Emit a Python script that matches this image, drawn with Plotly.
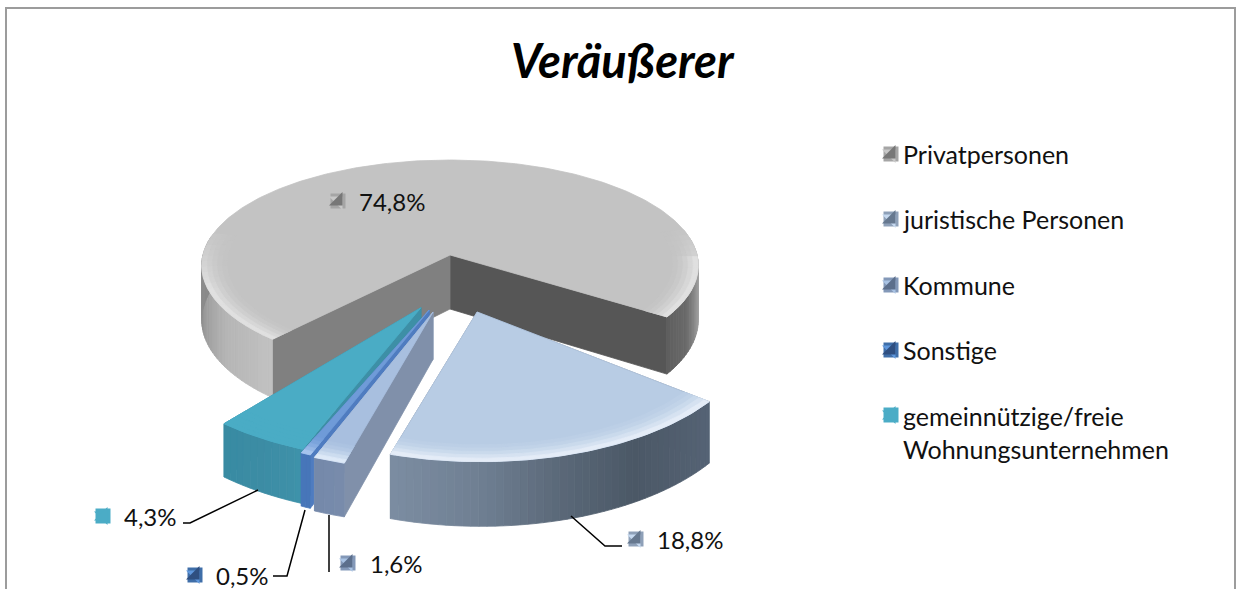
import math
import plotly.graph_objects as go

categories = ["Privatpersonen", "juristische Personen", "Kommune", "Sonstige",
              "gemeinnützige/freie<br>Wohnungsunternehmen"]
values = [74.8, 18.8, 1.6, 0.5, 4.3]
value_labels = ["74,8%", "18,8%", "1,6%", "0,5%", "4,3%"]
title_text = "Veräußerer"

W, H = 1236, 589
FONT = "Lato"
CX, CY, R, HH, C, DEPTH = 450, 255, 247, 104.5, 0.10, 54
START = 38.0  # angle where the second slice begins

# plane offsets, radius factors, depth factor, perspective angle nudges, colours for each slice
explode = [(0, 0), (0.104, 0.517), (-0.065, 0.517), (-0.08, 0.50), (-0.112, 0.48)]
scale = [1.0, 1.05, 1.08, 1.08, 1.08]
vstretch = [1.0, 1.08, 1.10, 1.10, 1.08]
depth_k = [1.0, 1.0, 0.83, 0.83, 0.85]
nudge = [(3, -4), (1, 1.3), (0, 0), (0, 0), (-2, 0)]
top_col = ["#c3c3c3", "#b8cce4", "#a8bfdf", "#6f9bd8", "#4aacc5"]
face_start = ["#565656", "#6f8096", "#98abc6", "#4f7cc0", "#368aa1"]
face_end = ["#808080", "#6f8096", "#8090aa", "#4f7cc0", "#3d8fa6"]
bevel_col = ["#e2e2e2", "#e6eef8", "#e0ebf8", "#a9c6ee", "#4aacc5"]
rim_stops = [
    [(-5, "#bdbdbd"), (12, "#9a9a9a"), (24, "#6a6a6a"), (40, "#575757"),
     (128, "#c4c4c4"), (150, "#b4b4b4"), (170, "#929292"), (185, "#8a8a8a")],
    [(38, "#566476"), (60, "#4b5866"), (75, "#5a6878"), (90, "#6f7f92"), (107, "#7c8da2")],
    [(100, "#7c8fae"), (120, "#6f84a6")],
    [(100, "#4f7cc0"), (120, "#4272b5")],
    [(110, "#3f93ab"), (120, "#3c8ca4"), (135, "#368aa1")],
]


def hex2rgb(c):
    return tuple(int(c[i:i + 2], 16) for i in (1, 3, 5))


def lerp(c1, c2, t):
    a, b = hex2rgb(c1), hex2rgb(c2)
    return "rgb(%d,%d,%d)" % tuple(round(a[i] + (b[i] - a[i]) * t) for i in range(3))


def ramp(stops, th):
    if th <= stops[0][0]:
        return lerp(stops[0][1], stops[0][1], 0)
    for (a, ca), (b, cb) in zip(stops, stops[1:]):
        if th <= b:
            return lerp(ca, cb, (th - a) / (b - a))
    return lerp(stops[-1][1], stops[-1][1], 0)


def project(u, v, drop=0.0):
    s = 1 / (1 - C * v)
    return CX + R * u * s, CY + HH * v * s + drop * s


def pt(i, th, r=1.0, drop=False):
    ou, ov = explode[i]
    t = math.radians(th)
    rr = r * scale[i]
    return project(ou + rr * math.cos(t), ov + rr * vstretch[i] * math.sin(t),
                   DEPTH * depth_k[i] if drop else 0.0)


fig = go.Figure()


def poly(points, color):
    xs = [p[0] for p in points] + [points[0][0]]
    ys = [p[1] for p in points] + [points[0][1]]
    fig.add_trace(go.Scatter(x=xs, y=ys, mode="lines", fill="toself", fillcolor=color,
                             line=dict(color=color, width=0.8), hoverinfo="skip",
                             showlegend=False))


def frange(a, b, n):
    return [a + (b - a) * k / n for k in range(n + 1)]


def grey_fade(th):
    th = th % 360
    if th < 160:
        return 1.0
    if th < 195:
        return (195 - th) / 35
    if th < 345:
        return 0.0
    return (th - 345) / 30


# slice angles derived from the values
spans = [v / sum(values) * 360 for v in values]
angles = [None] * 5
cur = START
for i in [1, 2, 3, 4]:
    angles[i] = (cur + nudge[i][0], cur + spans[i] + nudge[i][1])
    cur += spans[i]
angles[0] = (cur + nudge[0][0], cur + spans[0] + nudge[0][1])

BEVEL = [(0.90, 0.92, 0.08), (0.92, 0.94, 0.2), (0.94, 0.96, 0.4), (0.96, 0.98, 0.65), (0.98, 1.0, 0.95)]

for i in [0, 4, 3, 2, 1]:
    a0, a1 = angles[i]
    # radial cut faces
    for th, col in ((a1, face_start[i]), (a0, face_end[i])):
        poly([pt(i, th, 0), pt(i, th, 1), pt(i, th, 1, True), pt(i, th, 0, True)], col)
    # outer rim, only the part facing the viewer, as shaded strips
    ths = frange(a0, a1, max(2, int((a1 - a0) / 1.5)))
    for p, q in zip(ths, ths[1:]):
        mm = ((p + q) / 2) % 360
        if 190 < mm < 350:
            continue
        if mm >= 350:
            mm -= 360
        poly([pt(i, p), pt(i, q), pt(i, q, 1, True), pt(i, p, 1, True)], ramp(rim_stops[i], mm))
    # top surface
    arc = [pt(i, th) for th in frange(a0, a1, max(6, int(a1 - a0)))]
    poly([pt(i, a0, 0)] + arc, top_col[i])
    # soft bevel next to the front edge of the top surface
    if i == 0:
        ths2 = [th for th in frange(a0, a1, int((a1 - a0) / 3)) if grey_fade(th) > 0]
        pieces = [(p, q) for p, q in zip(ths2, ths2[1:]) if q - p < 4]
        for r0, r1, t in BEVEL:
            for p, q in pieces:
                f = grey_fade((p + q) / 2)
                poly([pt(i, p, r1), pt(i, q, r1), pt(i, q, r0), pt(i, p, r0)],
                     lerp(top_col[i], bevel_col[i], t * f))
    else:
        ths2 = frange(a0, a1, max(6, int(a1 - a0)))
        for r0, r1, t in BEVEL:
            ring = [pt(i, th, r1) for th in ths2] + [pt(i, th, r0) for th in reversed(ths2)]
            poly(ring, lerp(top_col[i], bevel_col[i], t))

# key squares next to data labels and legend entries
key_base = ["#a5a5a5", "#8ea0b8", "#8398b8", "#3f6ea8", "#4bacc6"]
key_light = ["#c8c8c8", "#c6d9f0", "#a9c3e4", "#5f97dc", "#4bacc6"]
key_dark = ["#777777", "#66788f", "#5c6f8c", "#2f4f80", "#4bacc6"]
label_x = [357, 655, 368, 214, 122]
label_y = [201, 539, 563, 575, 516]
key_x = [338, 636, 348, 195, 103]
legend_x = 891
legend_y = [154, 219, 285, 350, 415]

key_xs = key_x + [legend_x] * 5
key_ys = label_y + legend_y
fig.add_trace(go.Scatter(x=key_xs, y=key_ys, mode="markers",
                         marker=dict(symbol="square", size=15, color=key_base + key_base),
                         hoverinfo="skip", showlegend=False))
fig.add_trace(go.Scatter(x=key_xs, y=key_ys, mode="markers",
                         marker=dict(symbol="triangle-ne", size=15, color=key_light + key_light),
                         hoverinfo="skip", showlegend=False))
fig.add_trace(go.Scatter(x=key_xs, y=key_ys, mode="markers",
                         marker=dict(symbol="triangle-se", size=15, color=key_dark + key_dark),
                         hoverinfo="skip", showlegend=False))

ann = [dict(text=title_text, x=623, y=60, xref="x", yref="y", showarrow=False,
            font=dict(family=FONT, size=47, color="black", weight="bold", style="italic"))]
for x, y, t in zip(label_x, label_y, value_labels):
    ann.append(dict(text=t, x=x, y=y, xref="x", yref="y", xanchor="left", showarrow=False,
                    font=dict(family=FONT, size=24, color="#111")))
for i, (y, t) in enumerate(zip(legend_y, categories)):
    ann.append(dict(text=t, x=901, y=y if i < 4 else y + 17, xref="x", yref="y", xanchor="left",
                    align="left", showarrow=False,
                    font=dict(family=FONT, size=25, color="#111")))

leaders = ["M 183 523 L 190 523 L 258 490", "M 273 576 L 287 576 L 305 510",
           "M 329 572 L 329 515", "M 622 546 L 605 546 L 571 516"]
shapes = [dict(type="rect", x0=6, y0=8, x1=1235, y1=700, xref="x", yref="y",
               line=dict(color="#9c9c9c", width=2), layer="below")]
shapes += [dict(type="path", path=p, xref="x", yref="y", line=dict(color="black", width=1.5))
           for p in leaders]

fig.update_layout(width=W, height=H, margin=dict(l=0, r=0, t=0, b=0),
                  paper_bgcolor="white", plot_bgcolor="white", showlegend=False,
                  xaxis=dict(range=[0, W], visible=False, fixedrange=True),
                  yaxis=dict(range=[H, 0], visible=False, fixedrange=True),
                  annotations=ann, shapes=shapes)
fig.write_html("out.html", config=dict(displayModeBar=False),
               post_script="document.body.style.margin='0';document.body.style.overflow='hidden';")
